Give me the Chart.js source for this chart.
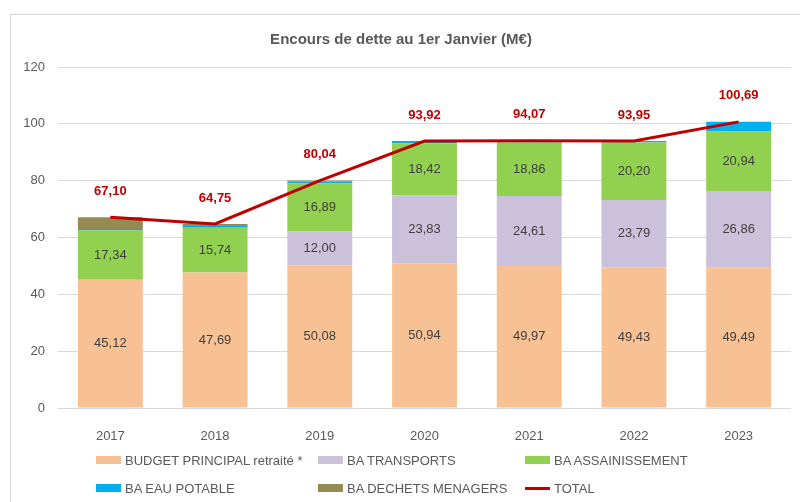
<!DOCTYPE html>
<html>
<head>
<meta charset="utf-8">
<script src="https://cdn.jsdelivr.net/npm/chart.js@4.4.1/dist/chart.umd.min.js"></script>
<style>
    body { margin: 0; background: #fff; font-family: "Liberation Sans", Arial, sans-serif; }
    #frame {
        position: absolute; left: 10px; top: 14px; width: 790px; height: 488px;
        border-left: 1px solid #d9d9d9; border-top: 1px solid #d9d9d9;
    }
    #wrap { position: absolute; left: 11px; top: 15px; width: 789px; height: 487px; }
    #legend {
        position: absolute; left: 96px; top: 452px;
        display: grid; grid-template-columns: 222px 207px auto; row-gap: 12px;
    }
    .item { display: flex; align-items: center; height: 16px; font-size: 13px; color: #595959; white-space: nowrap; }
    .swatch { width: 25px; height: 8px; margin-right: 4px; }
    .swatch.line { height: 3px; }
</style>
</head>
<body>
<div id="frame"></div>
<div id="wrap"><canvas id="detteChart"></canvas></div>
<div id="legend"></div>

<script>
const years = ["2017", "2018", "2019", "2020", "2021", "2022", "2023"];
const budgetPrincipal = [45.12, 47.69, 50.08, 50.94, 49.97, 49.43, 49.49];
const transports = [0, 0, 12.00, 23.83, 24.61, 23.79, 26.86];
const assainissement = [17.34, 15.74, 16.89, 18.42, 18.86, 20.20, 20.94];
const eauPotable = [0.54, 0.65, 0.75, 0.73, 0.63, 0.53, 3.40];
const dechetsMenagers = [4.10, 0.67, 0.32, 0, 0, 0, 0];
const totalDette = [67.10, 64.75, 80.04, 93.92, 94.07, 93.95, 100.69];
const yTicks = [0, 20, 40, 60, 80, 100, 120];

Chart.defaults.font.family = "'Liberation Sans', Arial, sans-serif";

function frNumber(v) {
    return v.toFixed(2).replace(".", ",");
}

// labels dans les barres + labels du total
const dataLabels = {
    id: "dataLabels",
    afterDatasetsDraw(chart) {
        const ctx = chart.ctx;
        ctx.save();
        ctx.textAlign = "center";
        ctx.textBaseline = "middle";
        chart.data.datasets.forEach((ds, i) => {
            const meta = chart.getDatasetMeta(i);
            if (ds.type === "line") {
                ctx.font = "bold 13px 'Liberation Sans', Arial, sans-serif";
                ctx.fillStyle = "#C00000";
                meta.data.forEach((pt, j) => {
                    ctx.fillText(frNumber(ds.data[j]), pt.x, pt.y - 26);
                });
            } else if (ds.showLabels) {
                ctx.font = "13px 'Liberation Sans', Arial, sans-serif";
                ctx.fillStyle = "#404040";
                meta.data.forEach((bar, j) => {
                    if (!ds.data[j]) return;
                    ctx.fillText(frNumber(ds.data[j]), bar.x, (bar.y + bar.base) / 2);
                });
            }
        });
        ctx.restore();
    }
};

function barSet(label, data, color, showLabels) {
    return {
        type: "bar",
        label: label,
        data: data,
        backgroundColor: color,
        showLabels: showLabels,
        order: 1,
        categoryPercentage: 1,
        barPercentage: 0.62
    };
}

const datasets = [
    barSet("BUDGET PRINCIPAL retraité *", budgetPrincipal, "#F8C194", true),
    barSet("BA TRANSPORTS", transports, "#CCC1DA", true),
    barSet("BA ASSAINISSEMENT", assainissement, "#92D050", true),
    barSet("BA EAU POTABLE", eauPotable, "#00B0F0", false),
    barSet("BA DECHETS MENAGERS", dechetsMenagers, "#948A54", false),
    {
        type: "line",
        label: "TOTAL",
        data: totalDette,
        borderColor: "#C00000",
        backgroundColor: "#C00000",
        borderWidth: 3,
        pointRadius: 0,
        tension: 0,
        order: 0
    }
];

new Chart(document.getElementById("detteChart"), {
    data: { labels: years, datasets: datasets },
    options: {
        responsive: true,
        maintainAspectRatio: false,
        animation: false,
        layout: { padding: { left: 0, right: 9, top: 0, bottom: 59 } },
        plugins: {
            legend: { display: false },
            tooltip: { enabled: false },
            title: {
                display: true,
                text: "Encours de dette au 1er Janvier (M€)",
                color: "#595959",
                font: { size: 15, weight: "bold" },
                padding: { top: 16, bottom: 18 }
            }
        },
        scales: {
            x: {
                stacked: true,
                grid: { display: false },
                border: { display: false },
                ticks: { color: "#595959", font: { size: 13 }, padding: 13 },
                afterFit: s => { s.height = 35; }
            },
            y: {
                stacked: true,
                min: 0,
                max: 120,
                afterBuildTicks: s => { s.ticks = yTicks.map(v => ({ value: v })); },
                grid: { color: "#d9d9d9", drawTicks: false },
                border: { display: false },
                ticks: { color: "#595959", font: { size: 13 }, padding: 13 },
                afterFit: s => { s.width = 47; }
            }
        }
    },
    plugins: [dataLabels]
});

// légende HTML en grille 3 colonnes
const legend = document.getElementById("legend");
datasets.forEach(ds => {
    const item = document.createElement("div");
    item.className = "item";
    const sw = document.createElement("span");
    sw.className = ds.type === "line" ? "swatch line" : "swatch";
    sw.style.background = ds.type === "line" ? ds.borderColor : ds.backgroundColor;
    item.appendChild(sw);
    item.appendChild(document.createTextNode(ds.label));
    legend.appendChild(item);
});
</script>
</body>
</html>
